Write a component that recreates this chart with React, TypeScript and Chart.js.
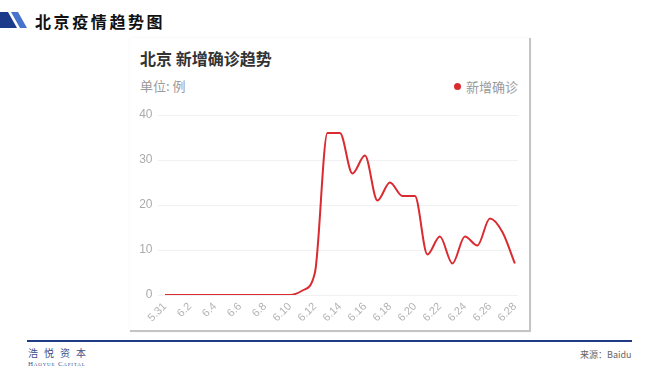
import React, { useEffect, useRef } from "react";
import { Chart, registerables } from "chart.js";

Chart.register(...registerables);

const dates = [
  "5.31", "6.1", "6.2", "6.3", "6.4", "6.5", "6.6", "6.7", "6.8", "6.9",
  "6.10", "6.11", "6.12", "6.13", "6.14", "6.15", "6.16", "6.17", "6.18", "6.19",
  "6.20", "6.21", "6.22", "6.23", "6.24", "6.25", "6.26", "6.27", "6.28",
];
const newCases = [
  0, 0, 0, 0, 0, 0, 0, 0, 0, 0,
  0, 1, 5, 36, 36, 27, 31, 21, 25, 22,
  22, 9, 13, 7, 13, 11, 17, 14, 7,
];
const yTicks = [0, 10, 20, 30, 40];
const seriesName = "新增确诊";
const slideTitle = "北京疫情趋势图";
const chartTitle = "北京 新增确诊趋势";
const unitText = "单位: 例";
const sourceText = "来源：Baidu";

const LINE_COLOR = "#d92b30";
const CJK = '"Noto Sans CJK SC", "Noto Sans", sans-serif';

function LineChart() {
  const ref = useRef<HTMLCanvasElement | null>(null);
  useEffect(() => {
    if (!ref.current) return;
    const chart = new Chart(ref.current, {
      type: "line",
      data: {
        datasets: [
          {
            label: seriesName,
            data: newCases.map((v, i) => ({ x: i, y: v })),
            borderColor: LINE_COLOR,
            backgroundColor: LINE_COLOR,
            borderWidth: 2,
            pointRadius: 0,
            fill: false,
            cubicInterpolationMode: "monotone",
          },
        ],
      },
      options: {
        animation: false,
        responsive: false,
        devicePixelRatio: 1,
        layout: { padding: { top: 15, right: 12, bottom: 0, left: 0 } },
        plugins: {
          legend: { display: false },
          tooltip: { enabled: false },
        },
        scales: {
          x: {
            type: "linear",
            min: -0.6,
            max: 28.25,
            afterBuildTicks: (scale: any) => {
              scale.ticks = dates
                .map((_, i) => i)
                .filter((i) => i % 2 === 0)
                .map((v) => ({ value: v }));
            },
            afterFit: (scale: any) => {
              scale.height = 37;
            },
            grid: { display: false, drawTicks: false },
            border: { display: false },
            ticks: {
              autoSkip: false,
              minRotation: 45,
              maxRotation: 45,
              padding: 5,
              color: "#b3b3b3",
              font: { size: 11, family: '"Liberation Sans", Arial, sans-serif' },
              callback: (v: any) => dates[Number(v)] ?? "",
            },
          },
          y: {
            min: 0,
            max: 40,
            afterBuildTicks: (scale: any) => {
              scale.ticks = yTicks.map((v) => ({ value: v }));
            },
            afterFit: (scale: any) => {
              scale.width = 27.5;
            },
            grid: { color: "#f1f1f1", lineWidth: 1, drawTicks: false },
            border: { display: false },
            ticks: {
              padding: 5,
              color: "#ababab",
              font: { size: 12, family: '"Liberation Sans", Arial, sans-serif' },
            },
          },
        },
      },
    } as any);
    return () => chart.destroy();
  }, []);
  return (
    <canvas
      ref={ref}
      width={400}
      height={232}
      style={{ position: "absolute", left: 130, top: 100, width: 400, height: 232 }}
    />
  );
}

export default function App() {
  return (
    <div
      style={{
        position: "fixed",
        left: 0,
        top: 0,
        width: 660,
        height: 372,
        background: "#ffffff",
        overflow: "hidden",
        fontFamily: CJK,
      }}
    >
      {/* header icon */}
      <svg width={30} height={30} style={{ position: "absolute", left: 0, top: 5 }}>
        <polygon points="0,7 8,7 17,23 0,23" fill="#1d3b8b" />
        <polygon points="11,7 18,7 27,23 20,23" fill="#4673cc" />
      </svg>
      <div
        style={{
          position: "absolute",
          left: 35,
          top: 12,
          fontSize: 16,
          lineHeight: "18px",
          fontWeight: 700,
          letterSpacing: 2.6,
          color: "#111",
          whiteSpace: "nowrap",
        }}
      >
        {slideTitle}
      </div>

      {/* card */}
      <div
        style={{
          position: "absolute",
          left: 130,
          top: 38,
          width: 399,
          height: 292,
          background: "#fff",
          borderRight: "2px solid #c4c4c4",
          borderBottom: "2px solid #c4c4c4",
          boxShadow: "0 0 2px rgba(0,0,0,0.06)",
        }}
      />
      <div
        style={{
          position: "absolute",
          left: 140,
          top: 50,
          fontSize: 16,
          lineHeight: "17px",
          fontWeight: 700,
          color: "#333",
          whiteSpace: "nowrap",
        }}
      >
        {chartTitle}
      </div>
      <div
        style={{
          position: "absolute",
          left: 140,
          top: 79,
          fontSize: 13,
          lineHeight: "14px",
          color: "#9a9a9a",
          whiteSpace: "nowrap",
        }}
      >
        {unitText}
      </div>
      <div
        style={{
          position: "absolute",
          left: 454,
          top: 83,
          width: 7,
          height: 7,
          borderRadius: "50%",
          background: LINE_COLOR,
        }}
      />
      <div
        style={{
          position: "absolute",
          left: 466,
          top: 80,
          fontSize: 13,
          lineHeight: "14px",
          color: "#9a9a9a",
          whiteSpace: "nowrap",
        }}
      >
        {seriesName}
      </div>

      <LineChart />

      {/* footer */}
      <div
        style={{
          position: "absolute",
          left: 27,
          top: 340,
          width: 605,
          height: 2,
          background: "#1f3b86",
        }}
      />
      <div
        style={{
          position: "absolute",
          left: 28,
          top: 347,
          fontSize: 10,
          lineHeight: "11px",
          letterSpacing: 6,
          color: "#3b4f8e",
          whiteSpace: "nowrap",
        }}
      >
        浩悦资本
      </div>
      <div
        style={{
          position: "absolute",
          left: 28,
          top: 360,
          fontSize: 7,
          lineHeight: "8px",
          letterSpacing: 0.8,
          fontVariant: "small-caps",
          fontFamily: '"Liberation Serif", "DejaVu Serif", serif',
          color: "#3b4f8e",
          whiteSpace: "nowrap",
        }}
      >
        Haoyue Capital
      </div>
      <div
        style={{
          position: "absolute",
          left: 580,
          top: 350,
          fontSize: 9,
          lineHeight: "10px",
          color: "#666",
          whiteSpace: "nowrap",
        }}
      >
        {sourceText}
      </div>
    </div>
  );
}
